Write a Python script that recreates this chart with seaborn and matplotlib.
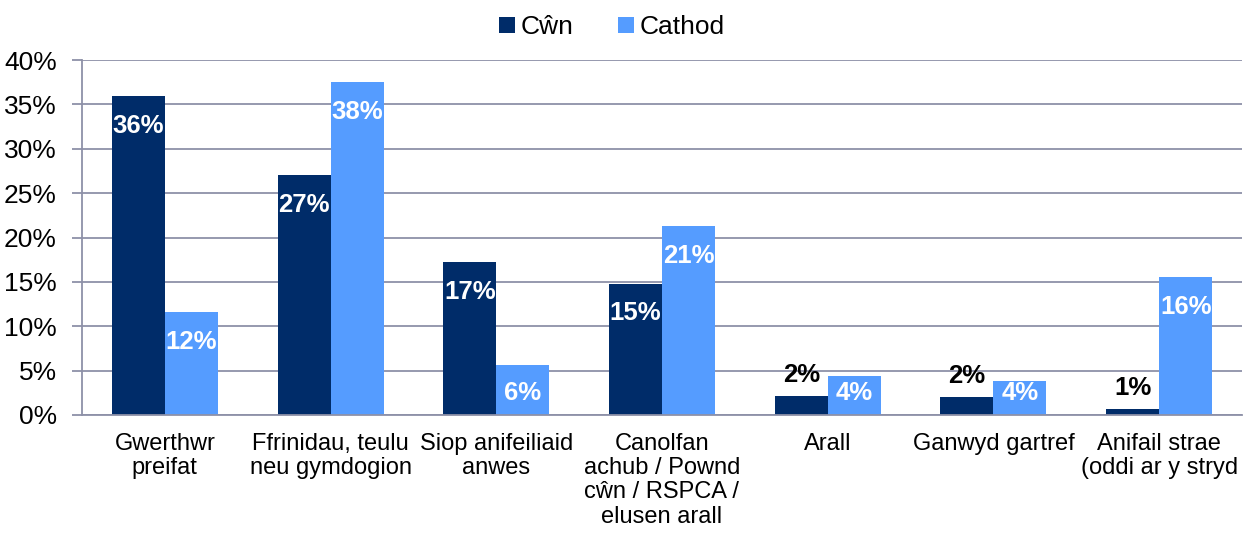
import pandas as pd
import matplotlib
matplotlib.use("Agg")
import matplotlib.pyplot as plt
from matplotlib.lines import Line2D
import seaborn as sns

# Data (percent)
categories = [
    "Gwerthwr\npreifat",
    "Ffrinidau, teulu\nneu gymdogion",
    "Siop anifeiliaid\nanwes",
    "Canolfan\nachub / Pownd\ncŵn / RSPCA /\nelusen arall",
    "Arall",
    "Ganwyd gartref",
    "Anifail strae\n(oddi ar y stryd",
]
series_names = ["Cŵn", "Cathod"]
dogs = [35.9, 27.0, 17.2, 14.8, 2.1, 2.0, 0.7]
cats = [11.6, 37.5, 5.6, 21.3, 4.4, 3.8, 15.5]
dog_labels = ["36%", "27%", "17%", "15%", "2%", "2%", "1%"]
cat_labels = ["12%", "38%", "6%", "21%", "4%", "4%", "16%"]

colors = ["#002C69", "#559CFF"]
grid_color = "#8E91A8"

df = pd.DataFrame({
    "source": categories * 2,
    "animal": [series_names[0]] * len(dogs) + [series_names[1]] * len(cats),
    "value": dogs + cats,
})

sns.set_theme(style="white")
plt.rcParams["font.family"] = ["Liberation Sans", "DejaVu Sans"]
plt.rcParams["text.color"] = "black"

fig = plt.figure(figsize=(12.46, 5.37), dpi=100)
ax = fig.add_axes([0.0658, 0.2272, 0.931, 0.661])

sns.barplot(data=df, x="source", y="value", hue="animal", palette=colors,
            width=0.64, saturation=1, order=categories, hue_order=series_names,
            ax=ax, legend=False, linewidth=0)

ax.set_ylim(0, 40)
ax.set_xlim(-0.5, len(categories) - 0.5)
ax.set_yticks(range(0, 41, 5))
ax.set_yticklabels([f"{v}%" for v in range(0, 41, 5)], fontsize=19,
                   color="black")
ax.set_xticks(range(len(categories)))
ax.set_xticklabels(categories, fontsize=17, linespacing=1.13, color="black")
ax.set_xticks([i - 0.5 for i in range(len(categories) + 1)], minor=True)
ax.tick_params(axis="x", which="major", length=0, pad=13)
ax.tick_params(axis="x", which="minor", length=7, color=grid_color, width=1.3)
ax.tick_params(axis="y", length=7, color=grid_color, width=1.3, pad=11,
               left=True)
ax.set_xlabel("")
ax.set_ylabel("")

ax.grid(axis="y", color=grid_color, linewidth=1.3)
ax.set_axisbelow(True)
for side in ["top", "right"]:
    ax.spines[side].set_visible(False)
for side in ["left", "bottom"]:
    ax.spines[side].set_color(grid_color)
    ax.spines[side].set_linewidth(1.3)

# data labels: white inside the bar top, black above very short bars
for container, labels in zip(ax.containers, [dog_labels, cat_labels]):
    for bar, lab in zip(container, labels):
        h = bar.get_height()
        x = bar.get_x() + bar.get_width() / 2
        if h < 3:
            ax.annotate(lab, (x, h), xytext=(0, 10), textcoords="offset points",
                        ha="center", va="baseline", fontsize=18.5,
                        fontweight="bold", color="black")
        else:
            ax.text(x, max(h - 4.15, 1.7), lab, ha="center", va="baseline",
                    fontsize=18.5, fontweight="bold", color="white")

handles = [Line2D([], [], marker="s", linestyle="", markersize=11,
                  markerfacecolor=c, markeredgewidth=0) for c in colors]
fig.legend(handles, series_names, loc="center", bbox_to_anchor=(0.49, 0.95),
           ncol=2, frameon=False, fontsize=19, handletextpad=0.1,
           columnspacing=1.6, handlelength=0.8)

fig.savefig("out.png", dpi=100)
